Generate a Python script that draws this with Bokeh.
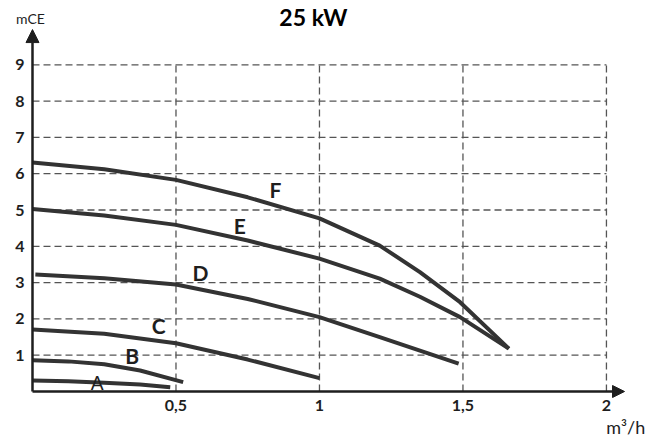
from bokeh.plotting import figure
from bokeh.models import Range1d, Arrow, NormalHead, Label
from bokeh.core.properties import value
from bokeh.embed import file_html
from bokeh.resources import INLINE

# ---- texts ----
title_text = "25 kW"
y_axis_title = "mCE"
x_axis_title = "m³/h"

# ---- ticks ----
x_ticks = [0.5, 1, 1.5, 2]
x_tick_labels = ["0,5", "1", "1,5", "2"]
y_ticks = [1, 2, 3, 4, 5, 6, 7, 8, 9]
y_tick_labels = ["1", "2", "3", "4", "5", "6", "7", "8", "9"]

# ---- pump curves (flow m3/h, head mCE) ----
curve_names = ["A", "B", "C", "D", "E", "F"]
a_flow = [0.0, 0.125, 0.25, 0.375, 0.48]
a_head = [0.30, 0.28, 0.24, 0.19, 0.12]
b_flow = [0.0, 0.125, 0.25, 0.375, 0.525]
b_head = [0.86, 0.83, 0.75, 0.58, 0.26]
c_flow = [0.0, 0.25, 0.5, 0.75, 1.0]
c_head = [1.71, 1.59, 1.33, 0.88, 0.37]
d_flow = [0.01, 0.25, 0.5, 0.75, 1.0, 1.21, 1.485]
d_head = [3.22, 3.12, 2.95, 2.55, 2.05, 1.50, 0.77]
e_flow = [0.0, 0.25, 0.5, 0.75, 1.0, 1.21, 1.35, 1.49, 1.66]
e_head = [5.03, 4.85, 4.59, 4.16, 3.66, 3.11, 2.61, 2.05, 1.18]
f_flow = [0.0, 0.25, 0.5, 0.75, 1.0, 1.21, 1.35, 1.49, 1.66]
f_head = [6.31, 6.12, 5.83, 5.35, 4.77, 4.02, 3.29, 2.46, 1.18]

# curve label anchor points (data units)
label_flow = [0.225, 0.347, 0.44, 0.585, 0.722, 0.847]
label_head = [0.26, 0.99, 1.82, 3.29, 4.57, 5.56]

# axis extents (arrow tips) and visible range
x_axis_end = 2.063
y_axis_end = 9.97
x_view = (-0.1115, 2.157)
y_view = (-1.377, 10.771)

FONT = "Lato"
INK = "#1e1e1e"
CURVE = "#333333"
GRID = "#555555"

p = figure(width=651, height=441, output_backend="svg", toolbar_location=None,
           title=None, x_range=Range1d(*x_view), y_range=Range1d(*y_view),
           min_border_left=0, min_border_right=0, min_border_top=0,
           min_border_bottom=0, min_border=0)
p.outline_line_color = None
p.grid.visible = False
p.background_fill_color = "white"
p.border_fill_color = "white"

# axes fixed at zero, labels only; lines drawn as arrows
for ax in (p.xaxis[0], p.yaxis[0]):
    ax.fixed_location = 0
    ax.axis_line_color = None
    ax.major_tick_line_color = None
    ax.minor_tick_line_color = None
    ax.major_tick_out = 0
    ax.major_tick_in = 0
    ax.minor_tick_out = 0
    ax.minor_tick_in = 0
    ax.major_label_text_font = FONT
    ax.major_label_text_font_style = "bold"
    ax.major_label_text_font_size = "16px"
    ax.major_label_text_color = INK
p.xaxis.ticker = x_ticks
p.xaxis.major_label_overrides = dict(zip(x_ticks, x_tick_labels))
p.xaxis.major_label_standoff = 8
p.yaxis.ticker = y_ticks
p.yaxis.major_label_overrides = dict(zip(y_ticks, y_tick_labels))
p.yaxis.major_label_standoff = 8

# dashed grid
p.segment(x0=x_ticks, y0=[0] * len(x_ticks), x1=x_ticks, y1=[max(y_ticks)] * len(x_ticks),
          line_color=GRID, line_width=1.3, line_dash="7 4")
p.segment(x0=[0] * len(y_ticks), y0=y_ticks, x1=[max(x_ticks)] * len(y_ticks), y1=y_ticks,
          line_color=GRID, line_width=1.3, line_dash="7 4")

# curves
for fx, hy in [(a_flow, a_head), (b_flow, b_head), (c_flow, c_head),
               (d_flow, d_head), (e_flow, e_head), (f_flow, f_head)]:
    p.line(fx, hy, line_color=CURVE, line_width=4, line_join="round")

# curve labels
p.text(x=label_flow[:1], y=label_head[:1], text=curve_names[:1],
       text_font=value(FONT), text_font_style="normal", text_font_size="19px",
       text_align="center", text_baseline="middle", text_color=INK)
p.text(x=label_flow[1:], y=label_head[1:], text=curve_names[1:],
       text_font=value(FONT), text_font_style="bold", text_font_size="21px",
       text_align="center", text_baseline="middle", text_color=INK)

# axis arrows
p.add_layout(Arrow(end=NormalHead(size=13, fill_color=INK, line_color=INK, line_width=1),
                   x_start=0, y_start=0, x_end=0, y_end=y_axis_end,
                   line_color=INK, line_width=2.5))
p.add_layout(Arrow(end=NormalHead(size=12, fill_color=INK, line_color=INK, line_width=1),
                   x_start=0, y_start=0, x_end=x_axis_end, y_end=0,
                   line_color=INK, line_width=2.5))

# texts
p.add_layout(Label(x=-0.007, y=10.28, text=y_axis_title, text_font=FONT,
                   text_font_size="14px", text_align="center", text_baseline="middle",
                   text_color=INK))
p.add_layout(Label(x=2.135, y=-0.98, text=x_axis_title, text_font=FONT,
                   text_font_size="18px", text_align="right", text_baseline="middle",
                   text_color=INK))
p.add_layout(Label(x=0.979, y=10.32, text=title_text, text_font=FONT,
                   text_font_style="bold", text_font_size="23px", text_align="center",
                   text_baseline="middle", text_color="#000000"))

open("out.html", "w").write(file_html(p, INLINE))
